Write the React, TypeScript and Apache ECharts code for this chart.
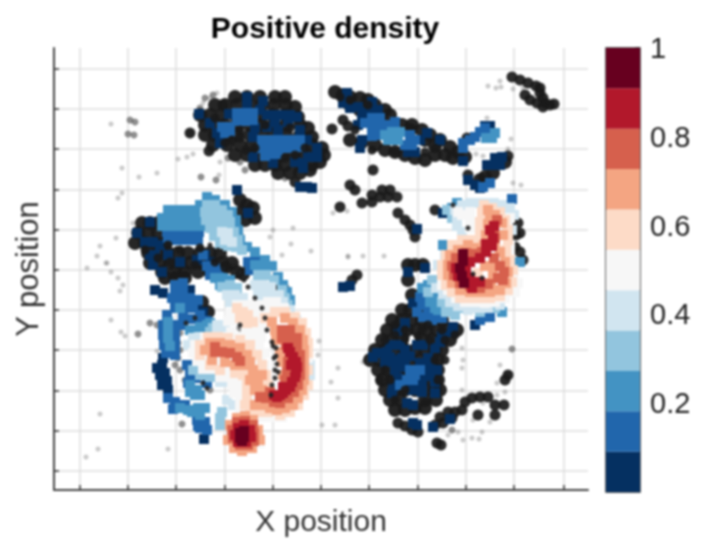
import React, { useEffect, useRef } from "react";
import * as echarts from "echarts";

type P = [number, number];
const xTicks = [30, 78, 126, 175, 223, 271, 319, 368, 416, 464, 514];
const yTicks = [29, 69, 109, 150, 190, 230, 270, 310, 351, 391, 431];
const barLevels = ["#053061", "#2166ac", "#4393c3", "#92c5de", "#d1e5f0", "#f7f7f7", "#fddbc7", "#f4a582", "#d6604d", "#b2182b", "#67001f"];

const faint: P[] = [[61,84],[72,128],[89,137],[107,133],[128,119],[137,117],[143,114],[170,122],[169,135],[68,158],[72,153],[83,183],[66,198],[50,206],[47,216],[56,223],[37,228],[220,197],[223,190],[243,188],[241,204],[232,215],[261,211],[298,217],[283,173],[297,171],[192,195],[167,53],[160,58],[153,63],[159,111],[182,107],[57,223],[61,232],[68,238],[73,245],[70,251],[61,280],[71,292],[75,296],[50,374],[48,409],[36,417],[118,409],[269,301],[268,315],[288,328],[281,342],[288,358],[272,385],[285,385],[107,311],[412,308],[413,320],[412,328],[450,325],[447,343],[412,350],[433,363],[455,352],[447,355],[440,382],[423,380],[432,392],[422,398],[429,399],[413,400],[408,392],[398,395],[313,322],[438,46],[446,48],[450,41],[451,47],[463,49],[473,48],[437,78],[461,99],[426,114],[433,116],[458,109],[463,143],[471,145],[333,66],[298,216],[313,216],[334,216]];
const smoky: P[] = [[80,80],[85,82],[78,94],[84,95],[151,137],[166,140],[140,93],[88,294],[132,384],[100,283],[107,285],[128,318],[125,325],[130,310],[130,293],[135,340],[130,330],[128,303],[170,343],[160,350],[462,309],[458,335],[402,390],[190,288],[155,58],[163,55],[150,68],[178,118],[190,122],[195,130],[235,138]];
const specks: P[] = [
[462,37],[470,40],[478,43],[486,46],[490,53],[493,58],[475,55],[480,60],[487,63],[495,63],[500,65],[493,67],[504,64],[490,48],
[323,130],[300,145],[305,150],[322,155],[332,150],[340,150],[322,162],[338,157],[347,157],[330,157],[312,163],[290,167],[348,173],[355,180],[360,185],[363,190],[365,197],[385,170],[282,89],[293,80],[298,86],
[385,385],[390,377],[398,372],[405,372],[412,370],[393,383],[402,378],[415,362],[422,358],[430,357],[438,357],[445,365],[454,365],[445,375],[428,375],[458,335],[455,340],[348,383],[387,403],[391,405],[368,392],[307,235],[302,240],[355,386],[362,390],
[468,183],[470,193],[465,207],[473,220],[466,195],[470,212],[417,98],[418,135],[458,116],[173,65],[140,93],[159,111],[245,142]];
const black: P[] = [
[185,57],[197,57],[210,57],[225,57],[235,57],[165,65],[175,65],[187,65],[200,65],[212,65],[224,65],[236,65],[245,67],[150,75],[160,75],[172,75],[185,75],[197,75],[210,75],[222,75],[235,75],[248,77],[155,85],[165,85],[175,85],[187,85],[200,85],[212,85],[224,85],[236,85],[250,85],[258,88],[155,95],[165,95],[177,95],[187,95],[200,95],[212,95],[224,95],[236,95],[250,95],[262,97],[163,105],[177,105],[190,105],[202,105],[214,105],[226,105],[238,105],[250,105],[262,105],[272,108],[185,115],[197,115],[208,115],[220,115],[232,115],[244,115],[256,115],[268,115],[274,115],[205,125],[215,125],[225,125],[235,125],[250,125],[262,125],[270,122],[228,133],[240,133],[250,133],[260,130],
[285,52],[293,55],[300,57],[310,58],[318,60],[325,65],[335,70],[340,75],[352,85],[362,85],[372,90],[380,95],[390,100],[400,107],[408,112],[415,117],[300,65],[310,70],[320,72],[330,78],[300,100],[312,102],[325,105],[335,110],[345,112],[355,115],[365,118],[375,120],[385,115],[395,115],[403,118],[375,100],[385,106],[360,90],[435,137],[443,133],[455,122],[430,140],
[358,225],[365,225],[373,225],[358,240],[362,255],[352,270],[360,270],[370,270],[342,280],[352,280],[362,280],[372,280],[382,280],[392,280],[337,290],[347,290],[357,290],[367,290],[377,290],[387,290],[397,290],[407,290],[332,300],[342,300],[352,300],[372,300],[382,300],[392,300],[400,300],[325,310],[335,310],[345,310],[355,310],[365,310],[375,310],[385,310],[392,310],[320,320],[330,320],[340,320],[350,320],[360,320],[370,320],[380,320],[388,320],[328,330],[338,330],[348,330],[358,330],[368,330],[378,330],[388,330],[332,340],[342,340],[352,340],[362,340],[372,340],[382,340],[388,340],[335,350],[345,350],[355,350],[365,350],[375,350],[385,350],[390,350],[340,360],[350,360],[375,360],[386,360],[345,370],[355,370],[365,368],[375,368],
[92,183],[100,183],[108,183],[88,193],[98,193],[108,193],[85,203],[95,203],[105,203],[115,203],[98,213],[108,213],[118,213],[128,213],[138,213],[150,213],[160,213],[170,213],[100,223],[110,223],[120,223],[130,223],[140,223],[152,223],[162,223],[172,223],[182,223],[112,232],[125,232],[135,232],[148,232],[160,232],[175,228],[187,232],[193,234],[115,238],[125,238],[135,238],[190,160],[197,165],[203,168],[205,178],[195,180],[192,172],[232,248],[145,262],[152,262],[158,272]];
const navy: P[] = [
[149,74],[160,83],[170,103],[179,74],[197,57],[197,65],[213,61],[210,70],[217,75],[227,75],[233,75],[240,75],[247,77],[217,87],[228,90],[203,97],[203,117],[223,123],[250,90],[257,100],[267,108],[267,117],[258,117],[253,123],[245,122],[253,128],[167,93],[250,147],[257,147],[262,148],[225,82],[238,82],[205,88],
[297,53],[293,63],[300,68],[308,67],[322,62],[313,72],[320,72],[328,70],[312,78],[308,85],[312,100],[310,108],[390,100],[377,93],[370,100],[358,112],[365,112],[413,121],[435,86],[440,86],[437,125],[445,118],[452,117],[445,125],[450,125],[418,140],[425,145],[430,148],[367,189],[393,173],
[358,232],[375,228],[363,263],[355,283],[348,291],[367,305],[373,305],[340,305],[350,305],[355,310],[390,302],[385,308],[327,313],[333,313],[323,317],[340,317],[345,330],[350,327],[370,323],[380,327],[343,347],[342,353],[352,342],[372,342],[385,342],[385,353],[357,363],[363,365],[363,383],[367,385],[383,387],[400,379],[387,330],[402,292],[345,320],[352,318],[360,316],[335,322],[375,334],[355,325],[403,287],[425,285],[293,247],[300,246],[348,338],[380,336],[362,350],[372,352],[337,312],[378,318],[392,296],
[187,150],[198,173],[87,193],[100,182],[95,202],[103,202],[110,205],[100,215],[103,225],[112,232],[130,222],[105,215],[118,215],[147,220],[155,215],[160,222],[105,250],[113,253],[140,250],[147,267],[153,272],[112,325],[115,333],[117,341],[118,350],[107,328],[110,335],[112,345],[113,318],[154,399]];
const blue2: P[] = [
[172,87],[180,87],[175,93],[180,92],[187,73],[195,73],[203,73],[187,81],[195,81],[203,80],[212,100],[220,100],[228,100],[236,100],[244,100],[250,100],[212,108],[220,108],[228,108],[236,108],[244,108],[250,107],[220,114],[228,114],[215,116],
[315,83],[322,78],[330,78],[337,85],[322,87],[330,87],[322,96],[330,95],[340,100],[360,95],[355,105],[362,105],[345,82],[365,100],[413,103],[420,100],[425,97],[430,92],[435,88],[413,108],[433,147],[440,143],[462,159],
[350,345],[357,340],[365,335],[360,330],[363,340],[370,330],[370,257],[373,277],[382,280],[367,272],[430,280],[440,277],[375,262],[378,270],[385,275],[392,278],[372,265],
[117,192],[125,192],[133,195],[141,192],[149,192],[125,200],[133,200],[141,200],[118,198],[148,200],
[125,245],[133,250],[122,258],[130,258],[140,258],[125,268],[133,268],[143,268],[133,277],[141,279],[149,279],[157,281],[117,275],[113,285],[113,295],[114,305],[116,313],[124,285],[125,295],[125,305],[125,315],[125,253],[133,243],[148,260],[150,275],[133,285],
[118,358],[125,362],[135,365],[123,369],[147,380],[155,382],[150,388],[157,390],[148,386],[137,325],[140,335],[138,343],[145,328],[146,338],[157,343],[153,215],[157,226],[165,228],[160,235],[170,232],[198,222],[206,222],[200,230],[212,232]];
const blue3: P[] = [
[335,95],[342,92],[350,92],[338,100],[348,100],[442,98],[436,98],[445,93],[378,245],[385,257],[385,267],[452,272],[470,222],[407,163],[402,168],[393,205],[385,268],[380,262],[390,262],[388,270],[395,268],[372,248],
[118,170],[126,170],[134,170],[142,170],[150,170],[112,178],[120,178],[128,178],[136,178],[144,178],[152,178],[112,186],[120,186],[128,186],[136,186],[144,186],[152,186],[150,165],[157,157],[165,160],[175,165],[182,172],[186,180],[188,190],[190,200],[197,207],[205,212],[215,220],[222,226],[228,237],[233,245],[237,252],[240,260],[205,225],[215,225],[165,238],[173,238],[180,240],[170,245],
[130,268],[118,282],[118,290],[118,298],[120,306],[140,290],[150,287],[157,285],[130,368],[138,370],[148,368],[155,368],[142,372],[150,375],[140,345],[147,350],[150,355],[145,355],[140,352],[160,283]];
const blue4: P[] = [
[157,165],[165,165],[172,170],[155,172],[163,172],[171,172],[178,175],[156,180],[164,180],[172,180],[180,182],[160,188],[168,188],[176,190],[184,192],[164,196],[172,198],[180,198],[188,200],[170,204],[178,206],[186,207],[192,210],
[208,235],[216,235],[224,240],[232,250],[235,258],[238,265],[172,247],[180,245],[187,248],[180,253],[163,288],[160,292],[148,297],[143,330],[150,335],[160,337],[165,335],[172,372],[170,378],[170,385],[397,170],[402,178],[382,240],[378,252],[392,262],[396,272],[405,275],[412,268],[445,268],[430,272],[398,268]];
const blue5: P[] = [
[172,192],[178,193],[175,200],[182,202],[205,245],[213,245],[221,247],[229,255],[208,253],[216,253],[224,255],[233,262],[240,270],[246,280],[212,262],[177,255],[185,255],[193,258],[180,262],[167,285],[175,285],[167,293],[175,292],[143,298],[150,297],[138,305],[147,303],[170,342],[178,342],[177,360],[183,365],[260,325],[260,335],
[420,163],[428,163],[436,163],[444,163],[452,165],[460,168],[405,170],[412,165],[407,178],[407,186],[412,192],[464,175],[462,190],[395,215],[388,225],[386,248],[393,254],[400,262],[408,266],[418,270],[428,268],[438,268],[450,265]];
const light: P[] = [
[187,265],[195,265],[203,265],[209,265],[180,273],[188,273],[196,273],[204,273],[210,273],[178,281],[186,281],[194,281],[202,281],[210,281],[181,292],[196,289],[204,289],[212,289],[155,297],[163,297],[171,297],[179,297],[187,297],[195,297],[203,297],[211,297],[145,305],[153,305],[161,305],[169,305],[177,305],[185,305],[193,305],[201,305],[209,305],[143,313],[151,313],[159,313],[167,313],[175,313],[183,313],[191,313],[199,313],[207,313],[215,313],[147,321],[155,321],[163,321],[171,321],[179,321],[187,321],[195,321],[203,321],[211,321],[215,325],[153,329],[161,329],[169,329],[177,329],[185,329],[193,329],[201,329],[209,329],[215,330],[170,337],[178,337],[186,337],[194,337],[202,337],[210,337],[182,345],[190,345],[198,345],[206,345],[214,345],[184,353],[192,353],[200,353],[208,353],[216,353],[190,361],[198,361],[206,361],[214,361],[222,361],[190,369],[198,369],[206,369],[214,369],[222,369],[230,371],[200,377],[208,377],[216,377],[224,377],[232,377],[207,396],[210,403],
[218,262],[226,262],[234,268],[220,270],[228,270],[236,275],[244,283],[250,292],[254,300],[256,310],[258,318],
[412,175],[420,172],[420,180],[420,188],[408,172],[460,178],[458,186],[460,205],[460,215],[464,235],[400,225],[395,235],[392,245],[398,250],[406,258],[415,262],[425,262],[435,263],[445,262],[455,258],[465,252],[468,243]];
const peach: P[] = [
[434,165],[442,168],[450,172],[455,180],[458,190],[458,200],[432,172],[430,182],[430,192],[428,200],[420,200],[412,200],[402,205],[396,215],[392,225],[392,235],[396,245],[402,252],[410,258],[420,258],[430,258],[440,258],[450,256],[458,250],[462,242],[463,230],[460,220],[456,210],[428,233],[428,240],
[215,278],[225,272],[235,272],[245,277],[252,283],[256,293],[258,303],[258,313],[258,330],[258,345],[254,355],[248,365],[240,372],[230,375],[150,305],[158,297],[168,297],[178,298],[190,300],[200,305],[207,315],[212,325],[216,335],[218,345],[150,315],[160,325],[170,330],[185,333],[193,335],[197,345],[197,355],[195,365],[200,372],[210,372],[218,372],[187,268],[193,272],[198,275],[203,282],[190,278],[197,283]];
const salmon: P[] = [
[438,170],[445,175],[452,183],[453,195],[440,176],[438,184],[436,195],[434,205],[426,208],[418,205],[408,210],[400,215],[398,225],[398,235],[402,243],[410,250],[420,252],[430,252],[440,252],[450,250],[456,243],[458,232],[455,222],[450,212],[445,205],[435,226],[440,226],[443,235],[441,243],[418,240],
[222,282],[235,278],[243,283],[250,290],[253,300],[254,310],[254,320],[254,330],[254,340],[252,350],[248,358],[243,365],[235,368],[227,370],[220,368],[225,290],[226,300],[230,312],[232,322],[233,335],[155,310],[160,303],[170,303],[180,305],[190,308],[197,315],[200,322],[195,325],[185,325],[175,322],[162,320],[203,330],[208,340],[212,350],[210,360],[205,365],[215,365],[205,350],[200,340],[212,335],
[180,385],[187,378],[195,376],[203,380],[208,390],[210,400],[202,408],[192,411],[184,408],[178,400]];
const coral: P[] = [
[447,180],[444,190],[445,198],[440,205],[432,212],[424,214],[416,213],[406,218],[402,226],[404,235],[410,243],[420,246],[430,248],[438,244],[448,238],[453,240],[454,232],[450,226],[444,218],
[232,290],[240,290],[232,298],[240,298],[247,298],[236,305],[247,306],[250,315],[250,325],[250,335],[248,345],[244,352],[238,358],[230,363],[224,362],[220,352],[235,340],[237,332],[238,322],[165,312],[172,312],[180,313],[187,317],[190,321],[165,307],[210,357],[216,358],
[182,390],[187,382],[195,381],[203,385],[204,393],[204,401],[198,405],[190,405],[183,398]];
const red: P[] = [
[444,186],[440,190],[443,198],[436,204],[442,206],[436,212],[430,218],[420,222],[416,232],[420,238],[406,228],[408,236],[414,243],[422,248],[430,242],
[238,308],[243,317],[247,327],[245,337],[240,347],[233,353],[227,357],[240,312],[246,322],[246,333],[242,342],[236,350],[230,355],[224,355],[241,325],[233,347],
[188,388],[194,385],[200,390],[201,397],[196,402],[188,402],[185,395]];
const wine: P[] = [[413,214],[413,221],[410,228],[412,236],[414,243],[190,393],[194,397],[190,398],[194,391],[192,401]];
const blackOver: P[] = [[165,78],[175,103],[182,100],[190,98],[196,110],[205,108],[190,90],[215,85],[240,88],[235,118],[245,115],[255,108],
[345,295],[335,300],[355,298],[380,300],[395,300],[335,330],[330,340],[345,360],[355,350],[375,362],[340,340],[395,320],[388,340],[385,320],[368,296],[372,290],[345,285],[378,285],[392,290],[405,295],[355,290],
[345,112],[375,112],[385,108],[300,60],[290,57],[318,65],[305,90],[322,110],
[130,210],[120,222],[145,225],[165,222],[108,218],[95,210],[118,205],[150,208],[175,228]];
const blackTop: P[] = [[160,205],[168,210],[176,218],[184,225],[190,232],[194,240],[198,247],[205,258],[212,268],[215,278],[217,290],[222,302],[226,308],[226,316],[227,324],[228,332],[225,338],[222,345],[221,355],[190,285],[153,343],[157,348],[423,234],[432,238],[418,188],[403,165],[145,278],[136,283],[223,306],[224,318],[225,330]];

const colorbarTicks = [0.2, 0.4, 0.6, 0.8, 1];

function layer(data: P[], color: string, size: number, symbol = "rect", opacity = 1) {
  return { type: "scatter", xAxisIndex: 0, yAxisIndex: 0, data, symbol, symbolSize: size, silent: true,
    itemStyle: { color, opacity } };
}

export default function App() {
  const ref = useRef<HTMLDivElement>(null);
  useEffect(() => {
    const chart = echarts.init(ref.current!, null, { renderer: "svg" });
    const font = "'Liberation Sans', Arial, sans-serif";
    chart.setOption({
      animation: false,
      title: { text: "Positive density", left: 320, top: 7, textAlign: "center",
        textStyle: { fontFamily: font, fontSize: 30, fontWeight: "bold", color: "#000" } },
      grid: [
        { left: 54, top: 48, width: 534, height: 442, outerBoundsMode: "none" },
        { left: 606, top: 48, width: 34, height: 444, outerBoundsMode: "none", show: true, borderColor: "#333", borderWidth: 1.5, backgroundColor: "transparent" },
      ],
      xAxis: [
        { type: "value", gridIndex: 0, min: 4, max: 538, position: "bottom", name: "X position", nameLocation: "middle", nameGap: 15,
          nameTextStyle: { fontFamily: font, fontSize: 30, color: "#333" },
          axisLine: { onZero: false, lineStyle: { color: "#444", width: 2 } },
          axisTick: { show: true, inside: true, length: 5, customValues: xTicks, lineStyle: { color: "#333", width: 1.5 } },
          axisLabel: { show: false },
          splitLine: { show: true, lineStyle: { color: "#dedede", width: 1.5 } } },
        { type: "category", gridIndex: 1, data: ["c"], show: false },
      ],
      yAxis: [
        { type: "value", gridIndex: 0, min: 8, max: 450, inverse: true, name: "Y position", nameLocation: "middle", nameGap: 11,
          nameTextStyle: { fontFamily: font, fontSize: 31, color: "#333" },
          axisLine: { onZero: false, lineStyle: { color: "#444", width: 2 } },
          axisTick: { show: true, inside: true, length: 5, customValues: yTicks, lineStyle: { color: "#333", width: 1.5 } },
          axisLabel: { show: false },
          splitLine: { show: true, lineStyle: { color: "#dedede", width: 1.5 } } },
        { type: "value", gridIndex: 1, min: 0, max: 1, interval: 0.2, position: "right", axisLine: { show: false },
          axisTick: { show: true, inside: true, length: 5, lineStyle: { color: "#333", width: 1.5 } },
          splitLine: { show: false },
          axisLabel: { showMinLabel: false, margin: 10, padding: [6, 0, 0, 0], fontFamily: font, fontSize: 29, color: "#222",
            formatter: (v: number) => (colorbarTicks.includes(Number(v.toFixed(1))) ? String(Number(v.toFixed(1))) : "") } },
      ],
      series: [
        layer(faint, "#666", 5, "circle", 0.35),
        layer(smoky, "#444", 7, "circle", 0.6),
        layer(specks, "#1a1a1a", 11, "circle", 0.92),
        layer(black, "#1a1a1a", 14, "circle", 0.95),
        layer(navy, barLevels[0], 10),
        layer(blue2, barLevels[1], 10),
        layer(blue3, barLevels[2], 10),
        layer(blue4, barLevels[3], 10),
        layer(blue5, barLevels[4], 10),
        layer(light, barLevels[5], 10),
        layer(peach, barLevels[6], 10),
        layer(salmon, barLevels[7], 10),
        layer(coral, barLevels[8], 10),
        layer(red, barLevels[9], 10),
        layer(wine, barLevels[10], 10),
        layer(blackOver, "#1a1a1a", 9, "circle", 0.92),
        layer(blackTop, "#222", 5, "circle", 0.9),
        ...barLevels.map((color) => ({ type: "bar", xAxisIndex: 1, yAxisIndex: 1, stack: "cb", barWidth: "100%", silent: true,
          data: [1 / barLevels.length], itemStyle: { color } })),
      ],
    });
    return () => chart.dispose();
  }, []);
  return <div ref={ref} style={{ position: "absolute", left: 0, top: 0, width: 710, height: 540, filter: "blur(0.8px)" }} />;
}
